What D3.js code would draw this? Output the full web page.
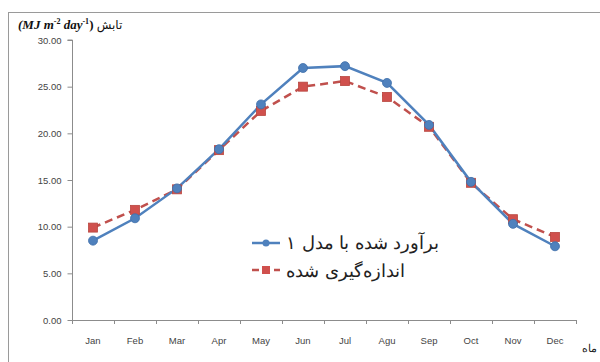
<!DOCTYPE html>
<html>
<head>
<meta charset="utf-8">
<script src="https://cdn.jsdelivr.net/npm/d3@7/dist/d3.min.js"></script>
<style>
  body { margin: 0; background: #fff; }
  svg { display: block; }
  .tick text { font-family: "Liberation Sans", Arial, sans-serif; font-size: 9.5px; fill: #444; }
  .axis path, .axis line { stroke: #8c8c8c; }
</style>
</head>
<body>
<div class="chart"></div>
<script>
const months = ['Jan', 'Feb', 'Mar', 'Apr', 'May', 'Jun', 'Jul', 'Agu', 'Sep', 'Oct', 'Nov', 'Dec'];
const estimated = [8.5, 10.9, 14.1, 18.3, 23.1, 27.0, 27.2, 25.4, 20.9, 14.8, 10.3, 7.9];
const measured = [9.9, 11.8, 14.0, 18.2, 22.4, 25.0, 25.6, 23.9, 20.7, 14.7, 10.8, 8.9];
const yTicks = [0, 5, 10, 15, 20, 25, 30];

const W = 600, H = 362;
const m = { left: 72, right: 24, top: 40, bottom: 42 };

const svg = d3.select('.chart').append('svg')
  .attr('width', W).attr('height', H);

// outer chart frame (clipped by window on right/bottom)
svg.append('rect')
  .attr('x', 8.5).attr('y', 12.5)
  .attr('width', 620).attr('height', 400)
  .attr('fill', 'none').attr('stroke', '#9a9a9a');

const x = d3.scaleBand().domain(months).range([m.left, W - m.right]);
const y = d3.scaleLinear().domain([0, 30]).range([H - m.bottom, m.top]);

// x axis: ticks at band boundaries
const xg = svg.append('g').attr('class', 'axis')
  .attr('transform', `translate(0,${y(0)})`);
xg.append('line').attr('x1', m.left).attr('x2', W - m.right).attr('y1', 0.5).attr('y2', 0.5);
xg.selectAll('line.bt').data(d3.range(months.length + 1)).enter().append('line')
  .attr('class', 'bt')
  .attr('x1', i => Math.round(m.left + i * x.step()) + 0.5)
  .attr('x2', i => Math.round(m.left + i * x.step()) + 0.5)
  .attr('y1', 0).attr('y2', 4);
xg.selectAll('text').data(months).enter().append('text')
  .attr('x', d => x(d) + x.bandwidth() / 2)
  .attr('y', 24)
  .attr('text-anchor', 'middle')
  .style('font-family', '"Liberation Sans", Arial, sans-serif')
  .style('font-size', '9.5px').style('fill', '#444')
  .text(d => d);

// y axis
const yAxis = d3.axisLeft(y).tickValues(yTicks).tickFormat(d3.format('.2f')).tickSize(5).tickPadding(6);
svg.append('g').attr('class', 'axis y')
  .attr('transform', `translate(${m.left + 0.5},0)`)
  .call(yAxis)
  .call(g => g.select('.domain').attr('d', `M-5,${y(30)}H0V${y(0)}`));

// lines
const cx = d => x(d) + x.bandwidth() / 2;
const line = d3.line().x((d, i) => cx(months[i])).y(d => y(d));

svg.append('path').datum(measured)
  .attr('fill', 'none').attr('stroke', '#C0504D')
  .attr('stroke-width', 2.5).attr('stroke-dasharray', '8,5')
  .attr('d', line);
svg.append('path').datum(estimated)
  .attr('fill', 'none').attr('stroke', '#4F81BD')
  .attr('stroke-width', 2.5)
  .attr('d', line);

svg.append('g').selectAll('rect').data(measured).enter().append('rect')
  .attr('x', (d, i) => cx(months[i]) - 4.5)
  .attr('y', d => y(d) - 4.5)
  .attr('width', 9).attr('height', 9)
  .attr('fill', '#D0504D').attr('stroke', '#B8463F').attr('stroke-width', 0.8);
svg.append('g').selectAll('circle').data(estimated).enter().append('circle')
  .attr('cx', (d, i) => cx(months[i]))
  .attr('cy', d => y(d))
  .attr('r', 4.5)
  .attr('fill', '#4F81BD').attr('stroke', '#3F6FAA').attr('stroke-width', 0.8);

// legend
const legendFont = '"DejaVu Serif", "Liberation Serif", serif';
const legend = svg.append('g').attr('transform', 'translate(252,0)');
legend.append('line').attr('x1', 0).attr('x2', 28).attr('y1', 243).attr('y2', 243)
  .attr('stroke', '#4F81BD').attr('stroke-width', 2.5);
legend.append('circle').attr('cx', 14).attr('cy', 243).attr('r', 3.5).attr('fill', '#4F81BD');
legend.append('text').attr('x', 34).attr('y', 249)
  .style('font-family', legendFont).style('font-size', '17.5px').style('fill', '#222')
  .text('برآورد شده با مدل ۱');
legend.append('line').attr('x1', 0).attr('x2', 28).attr('y1', 270).attr('y2', 270)
  .attr('stroke', '#C0504D').attr('stroke-width', 2.5).attr('stroke-dasharray', '7,4');
legend.append('rect').attr('x', 10).attr('y', 266).attr('width', 8).attr('height', 8).attr('fill', '#D0504D');
legend.append('text').attr('x', 34).attr('y', 277)
  .style('font-family', legendFont).style('font-size', '17.5px').style('fill', '#222')
  .text('اندازه‌گیری شده');

// y axis title
const title = svg.append('text').attr('x', 18).attr('y', 29)
  .style('font-family', '"Liberation Serif", "Times New Roman", serif').style('font-size', '13px')
  .style('fill', '#111');
title.append('tspan').style('font-weight', 'bold').style('font-style', 'italic').text('(MJ m');
title.append('tspan').attr('dy', -5).style('font-size', '8px').style('font-weight', 'bold').text('-2');
title.append('tspan').attr('dy', 5).style('font-weight', 'bold').style('font-style', 'italic').text(' day');
title.append('tspan').attr('dy', -5).style('font-size', '8px').style('font-weight', 'bold').text('-1');
title.append('tspan').attr('dy', 5).style('font-weight', 'bold').text(') ');
title.append('tspan').style('font-family', '"DejaVu Sans", sans-serif').style('font-size', '12px').text('تابش');

// x axis title
svg.append('text').attr('x', 597).attr('y', 352).attr('text-anchor', 'end')
  .style('font-family', '"DejaVu Serif", serif').style('font-size', '11px').style('fill', '#222')
  .text('ماه');
</script>
</body>
</html>
